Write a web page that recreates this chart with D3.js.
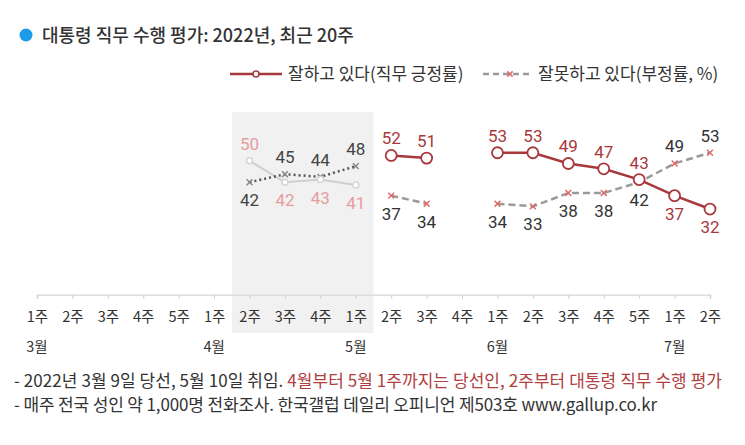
<!DOCTYPE html>
<html>
<head>
<meta charset="utf-8">
<script src="https://cdn.jsdelivr.net/npm/d3@7"></script>
<style>
  body { margin: 0; background: #fff; }
  svg { display: block; font-family: Roboto, "Noto Sans CJK KR", sans-serif; }
  .kr { font-family: "Noto Sans CJK KR", sans-serif; }
</style>
</head>
<body>
<svg id="chart" width="745" height="445"></svg>
<script>
// Weekly labels (20 weeks) and month markers
const weekLabels = ["1주", "2주", "3주", "4주", "5주", "1주", "2주", "3주", "4주", "1주",
                    "2주", "3주", "4주", "1주", "2주", "3주", "4주", "5주", "1주", "2주"];
const monthLabels = ["3월", "4월", "5월", "6월", "7월"];
const monthWeek = [0, 5, 9, 13, 18];

// Presidential job approval / disapproval (%)
const approve =    [null, null, null, null, null, null, null, null, null, null,
                    52, 51, null, 53, 53, 49, 47, 43, 37, 32];
const disapprove = [null, null, null, null, null, null, null, null, null, null,
                    37, 34, null, 34, 33, 38, 38, 42, 49, 53];
// President-elect period (April 2nd week to May 1st week)
const electApprove =    [null, null, null, null, null, null, 50, 42, 43, 41,
                         null, null, null, null, null, null, null, null, null, null];
const electDisapprove = [null, null, null, null, null, null, 42, 45, 44, 48,
                         null, null, null, null, null, null, null, null, null, null];
const electWeeks = [6, 9];

const svg = d3.select("#chart");

const x = d3.scalePoint()
  .domain(d3.range(weekLabels.length))
  .range([37, 710]);
const step = x.step();

const y = d3.scaleLinear()
  .domain([0, 100])
  .range([294.8, 26.8]);

// Shaded president-elect band
svg.append("rect")
  .attr("x", x(electWeeks[0]) - step / 2)
  .attr("y", 112)
  .attr("width", x(electWeeks[1]) - x(electWeeks[0]) + step)
  .attr("height", 333 - 112)
  .attr("fill", "#f1f1f1");

// Title
svg.append("circle")
  .attr("cx", 26).attr("cy", 35).attr("r", 6.5)
  .attr("fill", "#1d9bea");
svg.append("text")
  .attr("class", "kr")
  .attr("x", 42).attr("y", 42)
  .style("font-size", "18px")
  .style("font-weight", "500")
  .attr("fill", "#333")
  .text("대통령 직무 수행 평가: 2022년, 최근 20주");

// Legend
const legend = svg.append("g");
legend.append("line")
  .attr("x1", 230).attr("x2", 282).attr("y1", 74).attr("y2", 74)
  .attr("stroke", "#a8383b").attr("stroke-width", 2.5);
legend.append("circle")
  .attr("cx", 256).attr("cy", 74).attr("r", 3)
  .attr("fill", "#fff").attr("stroke", "#a8383b").attr("stroke-width", 1.5);
legend.append("text")
  .attr("class", "kr")
  .attr("x", 288).attr("y", 80)
  .style("font-size", "17px").attr("fill", "#333")
  .text("잘하고 있다(직무 긍정률)");
legend.append("line")
  .attr("x1", 483).attr("x2", 531).attr("y1", 74).attr("y2", 74)
  .attr("stroke", "#999").attr("stroke-width", 2.5)
  .attr("stroke-dasharray", "6,4");
legend.append("path")
  .attr("transform", "translate(510,74)")
  .attr("d", d3.symbol(d3.symbolTimes, 20)())
  .attr("fill", "none").attr("stroke", "#e06a6a").attr("stroke-width", 1.5);
legend.append("text")
  .attr("class", "kr")
  .attr("x", 538).attr("y", 80)
  .style("font-size", "17px").attr("fill", "#333")
  .text("잘못하고 있다(부정률, %)");

// X axis
const axis = svg.append("g")
  .attr("transform", `translate(0,${y(0)})`)
  .call(d3.axisBottom(x).tickSize(4).tickPadding(13).tickFormat(i => weekLabels[i]));
axis.select(".domain").attr("stroke", "#ddd").attr("stroke-width", 1.5);
axis.selectAll(".tick line").attr("stroke", "#ccc");
axis.selectAll(".tick text")
  .attr("class", "kr")
  .style("font-size", "14.5px")
  .attr("fill", "#333");

svg.selectAll(".month")
  .data(monthWeek)
  .enter().append("text")
  .attr("class", "kr month")
  .attr("x", d => x(d))
  .attr("y", 352)
  .attr("text-anchor", "middle")
  .style("font-size", "14.5px")
  .attr("fill", "#333")
  .text((d, i) => monthLabels[i]);

const line = d3.line()
  .defined(d => d.v != null)
  .x(d => x(d.i))
  .y(d => y(d.v));

const toPts = arr => arr.map((v, i) => ({ i, v }));
const valid = arr => toPts(arr).filter(d => d.v != null);

// President-elect lines
svg.append("path")
  .datum(toPts(electApprove))
  .attr("d", line)
  .attr("fill", "none").attr("stroke", "#cfcfcf").attr("stroke-width", 2);
svg.append("path")
  .datum(toPts(electDisapprove))
  .attr("d", line)
  .attr("fill", "none").attr("stroke", "#555").attr("stroke-width", 2.5)
  .attr("stroke-dasharray", "2,3");

// Presidential lines
svg.append("path")
  .datum(toPts(disapprove))
  .attr("d", line)
  .attr("fill", "none").attr("stroke", "#9a9a9a").attr("stroke-width", 2.5)
  .attr("stroke-dasharray", "7,4");
svg.append("path")
  .datum(toPts(approve))
  .attr("d", line)
  .attr("fill", "none").attr("stroke", "#a8383b").attr("stroke-width", 2.5);

// Markers
const cross = d3.symbol(d3.symbolTimes, 24);
svg.selectAll(".ex")
  .data(valid(electDisapprove))
  .enter().append("path")
  .attr("transform", d => `translate(${x(d.i)},${y(d.v)})`)
  .attr("d", cross)
  .attr("fill", "none").attr("stroke", "#888").attr("stroke-width", 1.5);
svg.selectAll(".dx")
  .data(valid(disapprove))
  .enter().append("path")
  .attr("transform", d => `translate(${x(d.i)},${y(d.v)})`)
  .attr("d", cross)
  .attr("fill", "none").attr("stroke", "#e06a6a").attr("stroke-width", 1.5);
svg.selectAll(".ec")
  .data(valid(electApprove))
  .enter().append("circle")
  .attr("cx", d => x(d.i)).attr("cy", d => y(d.v)).attr("r", 3)
  .attr("fill", "#fff").attr("stroke", "#d5d5d5").attr("stroke-width", 1.5);
svg.selectAll(".ac")
  .data(valid(approve))
  .enter().append("circle")
  .attr("cx", d => x(d.i)).attr("cy", d => y(d.v)).attr("r", 5.5)
  .attr("fill", "#fff").attr("stroke", "#a8383b").attr("stroke-width", 1.8);

// Value labels: higher series above, lower series below
function addLabels(values, other, color) {
  svg.selectAll(null)
    .data(valid(values))
    .enter().append("text")
    .attr("x", d => x(d.i))
    .attr("y", d => other[d.i] != null && d.v < other[d.i] ? y(d.v) + 24 : y(d.v) - 11)
    .attr("text-anchor", "middle")
    .style("font-size", "17px")
    .attr("fill", color)
    .text(d => d.v);
}
addLabels(electApprove, electDisapprove, "#e79c9c");
addLabels(electDisapprove, electApprove, "#444");
addLabels(approve, disapprove, "#a8383b");
addLabels(disapprove, approve, "#333");

// Footnotes
const note1 = svg.append("text")
  .attr("class", "kr")
  .attr("x", 14).attr("y", 387)
  .attr("textLength", 708)
  .attr("lengthAdjust", "spacing")
  .style("font-size", "17px")
  .attr("fill", "#333");
note1.append("tspan").text("- 2022년 3월 9일 당선, 5월 10일 취임. ");
note1.append("tspan").attr("fill", "#b0403f")
  .text("4월부터 5월 1주까지는 당선인, 2주부터 대통령 직무 수행 평가");
svg.append("text")
  .attr("class", "kr")
  .attr("x", 14).attr("y", 411)
  .attr("textLength", 643)
  .attr("lengthAdjust", "spacing")
  .style("font-size", "17px")
  .attr("fill", "#333")
  .text("- 매주 전국 성인 약 1,000명 전화조사. 한국갤럽 데일리 오피니언 제503호 www.gallup.co.kr");
</script>
</body>
</html>
